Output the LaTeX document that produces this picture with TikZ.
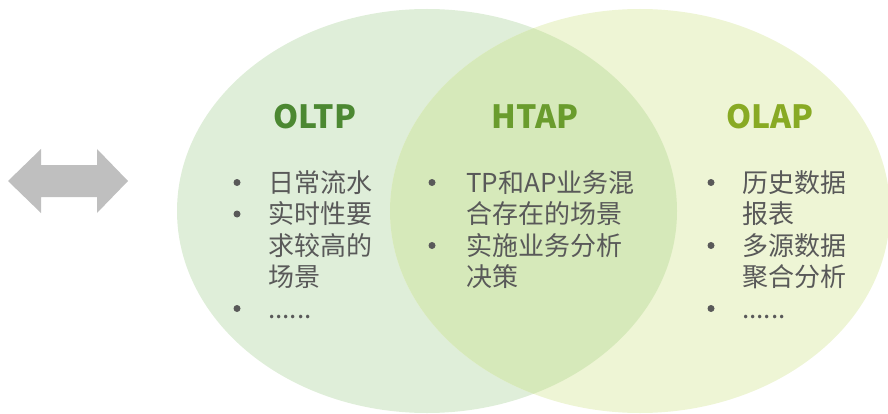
\documentclass[tikz,border=0pt]{standalone}
\usepackage{fontspec}
\setmainfont{Noto Sans CJK SC}
\definecolor{leftc}{RGB}{223,238,217}
\definecolor{rightc}{RGB}{238,245,213}
\definecolor{midc}{RGB}{214,233,186}
\definecolor{txtc}{RGB}{89,89,89}
\definecolor{oltpc}{RGB}{76,136,50}
\definecolor{htapc}{RGB}{106,156,45}
\definecolor{olapc}{RGB}{136,170,36}
\definecolor{arrc}{RGB}{191,191,191}
\tikzset{
  ttl/.style={font=\fontsize{32}{36}\selectfont\bfseries, anchor=base, inner sep=0pt},
  ln/.style={font=\fontsize{26}{31}\selectfont, text=txtc, anchor=base west, inner sep=0pt},
  bul/.style={circle, fill=txtc, inner sep=0pt, minimum size=7pt, yshift=9.5pt},
}
\begin{document}
\begin{tikzpicture}[x=1pt,y=1pt]
\useasboundingbox (0,0) rectangle (888,413);
% ellipses
\fill[leftc] (427,202) ellipse [x radius=250, y radius=202];
\fill[rightc] (640,202) ellipse [x radius=250, y radius=202];
\begin{scope}
  \clip (427,202) ellipse [x radius=250, y radius=202];
  \fill[midc] (640,202) ellipse [x radius=250, y radius=202];
\end{scope}
% double arrow
\fill[arrc] (8,232) -- (41,264) -- (41,248) -- (97,248) -- (97,264) -- (128,232)
  -- (97,200) -- (97,216) -- (41,216) -- (41,200) -- cycle;
% titles
\node[ttl, text=oltpc] (toltp) at (315,284) {OLTP};
\node[ttl, text=htapc] (thtap) at (535,284) {HTAP};
\node[ttl, text=olapc] (tolap) at (770,284) {OLAP};
% left column
\node[bul] (lb1) at (237,221) {};
\node[ln] (l1) at (268,221) {日常流水};
\node[bul] (lb2) at (237,189.5) {};
\node[ln] (l2) at (268,189.5) {实时性要};
\node[ln] (l3) at (268,158) {求较高的};
\node[ln] (l4) at (268,126.5) {场景};
\node[bul] (lb3) at (237,95) {};
\node[ln] (l5) at (268,95) {......};
% middle column
\node[bul] (mb1) at (432,221) {};
\node[ln] (m1) at (466,221) {TP和AP业务混};
\node[ln] (m2) at (466,189.5) {合存在的场景};
\node[bul] (mb2) at (432,158) {};
\node[ln] (m3) at (466,158) {实施业务分析};
\node[ln] (m4) at (466,126.5) {决策};
% right column
\node[bul] (rb1) at (711,221) {};
\node[ln] (r1) at (742,221) {历史数据};
\node[ln] (r2) at (742,189.5) {报表};
\node[bul] (rb2) at (711,158) {};
\node[ln] (r3) at (742,158) {多源数据};
\node[ln] (r4) at (742,126.5) {聚合分析};
\node[bul] (rb3) at (711,95) {};
\node[ln] (r5) at (742,95) {......};
\end{tikzpicture}
\end{document}
